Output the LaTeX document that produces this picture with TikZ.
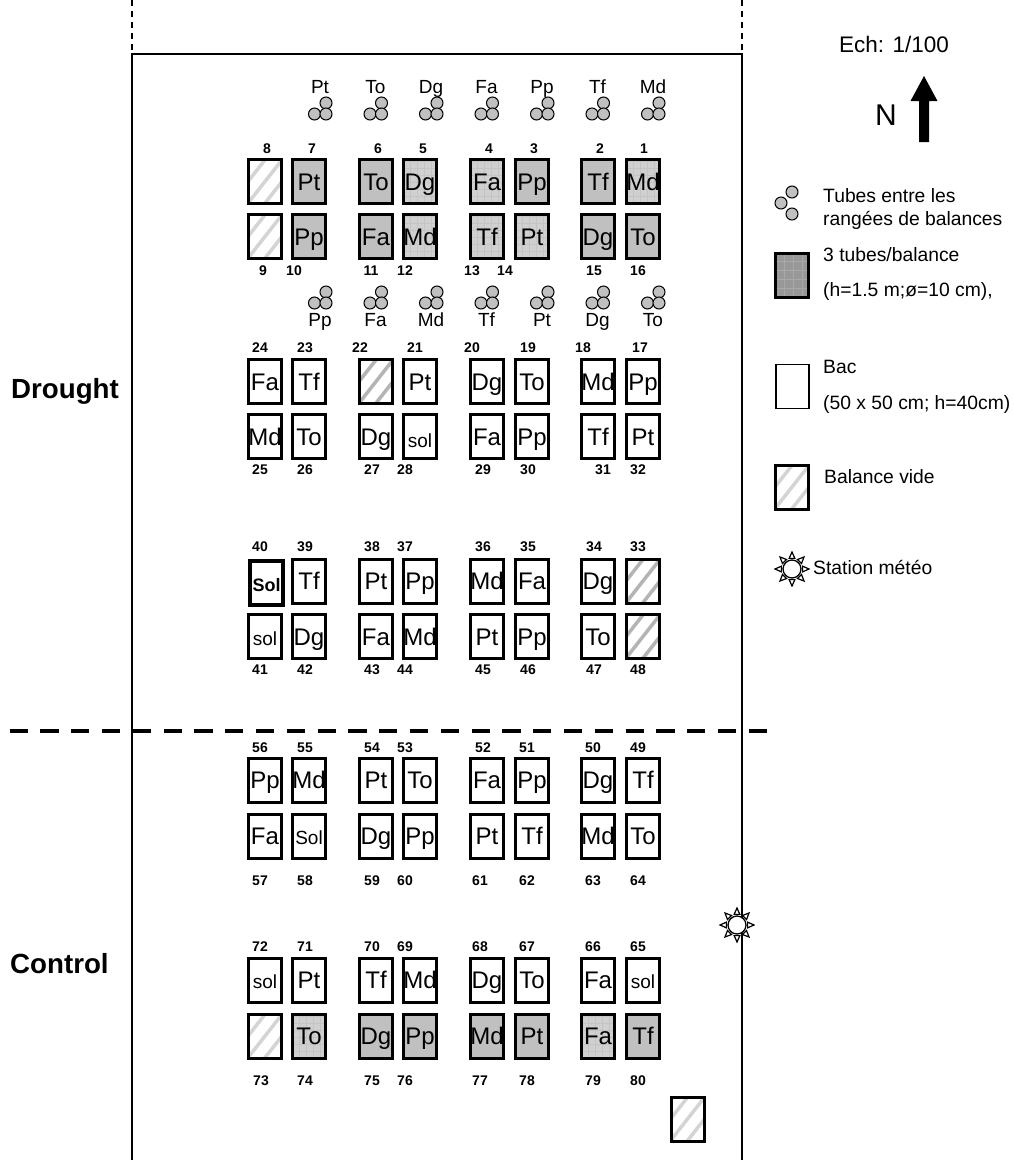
\documentclass[tikz,border=0pt]{standalone}
\usepackage{fontspec}
\setmainfont{Liberation Sans}
\newcommand{\solf}{\fontsize{19}{19}\selectfont}
\tikzset{
  x=1pt,y=-1pt,
  bacbase/.style={draw=black,line width=3pt,minimum width=33pt,minimum height=44pt,inner sep=0pt,text height=17pt,text depth=0pt,font=\fontsize{24}{24}\selectfont},
  baca/.style={bacbase,fill=white},
  bacs/.style={bacbase,fill=tubegrey},
  bact/.style={bacbase,fill=texgrey,path picture={
     \foreach \k in {1,2,3,4}{\draw[gridgrey,line width=.5pt]([xshift=\k*7pt]path picture bounding box.south west)--([xshift=\k*7pt]path picture bounding box.north west);}
     \foreach \k in {1,...,6}{\draw[gridgrey,line width=.5pt]([yshift=\k*7pt]path picture bounding box.south west)--([yshift=\k*7pt]path picture bounding box.south east);}}},
  bach/.style={bacbase,fill=white,path picture={
     \foreach \k in {-3,...,3}{\draw[hatchgrey,line width=3.5pt]([xshift=\k*17pt-22pt,yshift=-6pt]path picture bounding box.south)--([xshift=\k*17pt+22pt,yshift=6pt]path picture bounding box.north);}}},
  bachd/.style={bacbase,fill=white,path picture={
     \foreach \k in {-3,...,3}{\draw[hatchdark,line width=3.5pt]([xshift=\k*17pt-22pt,yshift=-6pt]path picture bounding box.south)--([xshift=\k*17pt+22pt,yshift=6pt]path picture bounding box.north);}}},
  num/.style={inner sep=0pt,font=\bfseries\fontsize{14}{14}\selectfont},
  lab/.style={inner sep=0pt,text height=13.7pt,text depth=0pt,font=\fontsize{19}{19}\selectfont},
  leg/.style={inner sep=0pt,anchor=west,text height=13.8pt,text depth=0pt,font=\fontsize{19.3}{19.3}\selectfont},
  big/.style={inner sep=0pt,anchor=west,text height=19.5pt,text depth=0pt,font=\bfseries\fontsize{27.7}{27.7}\selectfont},
  tube/.style={circle,draw=black,line width=1pt,fill=tubegrey,minimum size=12pt,inner sep=0pt},
  frameline/.style={line width=1.5pt},
  sunray/.style={draw=black,fill=white,line width=1.2pt,line join=miter},
}
\definecolor{tubegrey}{HTML}{C0C0C0}
\definecolor{texgrey}{HTML}{D0D0D0}
\definecolor{gridgrey}{HTML}{C4C4C4}
\definecolor{hatchgrey}{HTML}{D4D4D4}
\definecolor{hatchdark}{HTML}{B4B4B4}
\definecolor{darkbox}{HTML}{989898}
\definecolor{darkgrid}{HTML}{A8A8A8}
\newcommand{\bacrow}[2]{\foreach \n/\cx/\st/\tx in {#2}{\node[\st] (b\n) at (\cx,#1) {\tx};}}
\newcommand{\numrow}[2]{\foreach \n/\cx in {#2}{\node[num] (n\n) at (\cx,#1) {\n};}}
\newcommand{\tubes}[3]{%
  \node[tube] (t#1a) at (#2+6,#3-11) {};
  \node[tube] (t#1b) at (#2-5.5,#3) {};
  \node[tube] (t#1c) at (#2+6,#3) {};}
\newcommand{\sunmark}[3]{%
  \foreach \a in {0,45,...,315}{
    \draw[sunray] ([shift={(\a-15:11pt)}]#2,#3) -- ([shift={(\a:17pt)}]#2,#3) -- ([shift={(\a+15:11pt)}]#2,#3) -- cycle;}
  \node[circle,draw=black,fill=white,line width=1.3pt,minimum size=18pt,inner sep=0pt] (#1) at (#2,#3) {};}
\begin{document}
\begin{tikzpicture}
\useasboundingbox (0,0) rectangle (1013,1160);
% frame
\coordinate (fa) at (132,54); \coordinate (fb) at (742,54);
\coordinate (fc) at (132,1160); \coordinate (fd) at (742,1160);
\coordinate (fe) at (132,0); \coordinate (ff) at (742,0);
\draw[frameline] (fc) -- (fa) -- (fb) -- (fd);
\draw[line width=1.3pt,dash pattern=on 6pt off 5pt] (fe) -- (fa);
\draw[line width=1.3pt,dash pattern=on 6pt off 5pt] (ff) -- (fb);
\coordinate (da) at (9.5,731); \coordinate (db) at (767.5,731);
\draw[line width=4.5pt,dash pattern=on 18.3pt off 12.5pt] (da) -- (db);
% tubes
\foreach \i/\x/\t in {1/320/Pt,2/375.5/To,3/431/Dg,4/486.5/Fa,5/542/Pp,6/597.5/Tf,7/653/Md}{
  \tubes{u\i}{\x}{114}
  \node[lab] (tl\i) at (\x,87) {\t};}
\foreach \i/\x/\t in {1/320/Pp,2/375.5/Fa,3/431/Md,4/486.5/Tf,5/542/Pt,6/597.5/Dg,7/653/To}{
  \tubes{v\i}{\x}{303}
  \node[lab] (ml\i) at (\x,320) {\t};}
% boxes
\bacrow{181.5}{8/265/bach/,7/309/bacs/Pt,6/376/bacs/To,5/420/bact/Dg,4/487/bact/Fa,3/532/bacs/Pp,2/598/bacs/Tf,1/643/bact/Md}
\bacrow{236.5}{9/265/bach/,10/309/bacs/Pp,11/376/bacs/Fa,12/420/bact/Md,13/487/bact/Tf,14/532/bact/Pt,15/598/bacs/Dg,16/643/bacs/To}
\bacrow{381.5}{24/265/baca/Fa,23/309/baca/Tf,22/376/bachd/,21/420/baca/Pt,20/487/baca/Dg,19/532/baca/To,18/598/baca/Md,17/643/baca/Pp}
\bacrow{436.5}{25/265/baca/Md,26/309/baca/To,27/376/baca/Dg,28/420/baca/{\solf\raisebox{-2pt}{sol}},29/487/baca/Fa,30/532/baca/Pp,31/598/baca/Tf,32/643/baca/Pt}
\bacrow{581}{39/309/baca/Tf,38/376/baca/Pt,37/420/baca/Pp,36/487/baca/Md,35/532/baca/Fa,34/598/baca/Dg,33/643/bachd/}
\node[baca,line width=4pt,font=\bfseries\fontsize{18}{18}\selectfont] (b40) at (266.5,583) {Sol};
\bacrow{636.5}{41/265/baca/{\solf sol},42/309/baca/Dg,43/376/baca/Fa,44/420/baca/Md,45/487/baca/Pt,46/532/baca/Pp,47/598/baca/To,48/643/bachd/}
\bacrow{780}{56/265/baca/Pp,55/309/baca/Md,54/376/baca/Pt,53/420/baca/To,52/487/baca/Fa,51/532/baca/Pp,50/598/baca/Dg,49/643/baca/Tf}
\bacrow{836}{57/265/baca/Fa,58/309/baca/{\solf Sol},59/376/baca/Dg,60/420/baca/Pp,61/487/baca/Pt,62/532/baca/Tf,63/598/baca/Md,64/643/baca/To}
\bacrow{980}{72/265/baca/{\solf sol},71/309/baca/Pt,70/376/baca/Tf,69/420/baca/Md,68/487/baca/Dg,67/532/baca/To,66/598/baca/Fa,65/643/baca/{\solf sol}}
\bacrow{1036}{73/265/bach/,74/309/bact/To,75/376/bacs/Dg,76/420/bacs/Pp,77/487/bacs/Md,78/532/bacs/Pt,79/598/bact/Fa,80/643/bacs/Tf}
\node[bach] (bx) at (687.5,1119) {};
% numbers
\numrow{149}{8/267,7/312,6/378,5/423,4/489,3/534,2/600,1/644}
\numrow{271}{9/263,10/294,11/371,12/405,13/472,14/505,15/594,16/638}
\numrow{348}{24/260,23/305,22/360,21/415,20/472,19/528,18/583,17/640}
\numrow{470}{25/260,26/305,27/372,28/405,29/483,30/528,31/603,32/638}
\numrow{547}{40/260,39/305,38/372,37/405,36/483,35/528,34/594,33/638}
\numrow{670}{41/260,42/305,43/372,44/405,45/483,46/528,47/594,48/638}
\numrow{748}{56/260,55/305,54/372,53/405,52/483,51/527,50/593,49/638}
\numrow{881}{57/260,58/305,59/372,60/405,61/480,62/527,63/593,64/638}
\numrow{947}{72/260,71/305,70/372,69/405,68/480,67/527,66/593,65/638}
\numrow{1081}{73/261,74/305,75/372,76/405,77/480,78/527,79/593,80/638}
% side labels
\node[big] (drought) at (11,389) {Drought};
\node[big] (control) at (10,964) {Control};
% legend
\node[inner sep=0pt,font=\fontsize{22.5}{22.5}\selectfont] (ech) at (894,44) {Ech: 1/100};
\node[inner sep=0pt,font=\fontsize{30}{30}\selectfont] (north) at (886,115) {N};
\fill (919,142) -- (929,142) -- (929,101) -- (937.5,101) -- (924,76) -- (910.5,101) -- (919,101) -- cycle;
\node[tube] (la) at (792,192) {};
\node[tube] (lb) at (781,203) {};
\node[tube] (lc) at (792,214) {};
\node[leg] (lt1) at (823,196) {Tubes entre les};
\node[leg] (lt2) at (823,219) {rangées de balances};
\node[bacbase,fill=darkbox,path picture={
   \foreach \k in {1,2,3}{\draw[darkgrid,line width=.5pt]([xshift=\k*9pt]path picture bounding box.south west)--([xshift=\k*9pt]path picture bounding box.north west);}
   \foreach \k in {1,...,4}{\draw[darkgrid,line width=.5pt]([yshift=\k*9pt]path picture bounding box.south west)--([yshift=\k*9pt]path picture bounding box.south east);}}] (ld) at (792,275) {};
\node[leg] (lt3) at (823,255) {3 tubes/balance};
\node[leg] (lt4) at (823,290) {(h=1.5 m;ø=10 cm),};
\node[baca,line width=1.6pt] (le) at (792.5,386.5) {};
\node[leg] (lt5) at (823,367) {Bac};
\node[leg] (lt6) at (823,403) {(50 x 50 cm; h=40cm)};
\node[bach] (lf) at (792,487) {};
\node[leg] (lt7) at (824,477) {Balance vide};
\sunmark{sa}{792}{569}
\node[leg] (lt8) at (813,568) {Station météo};
\sunmark{sb}{737}{925}
\end{tikzpicture}
\end{document}
